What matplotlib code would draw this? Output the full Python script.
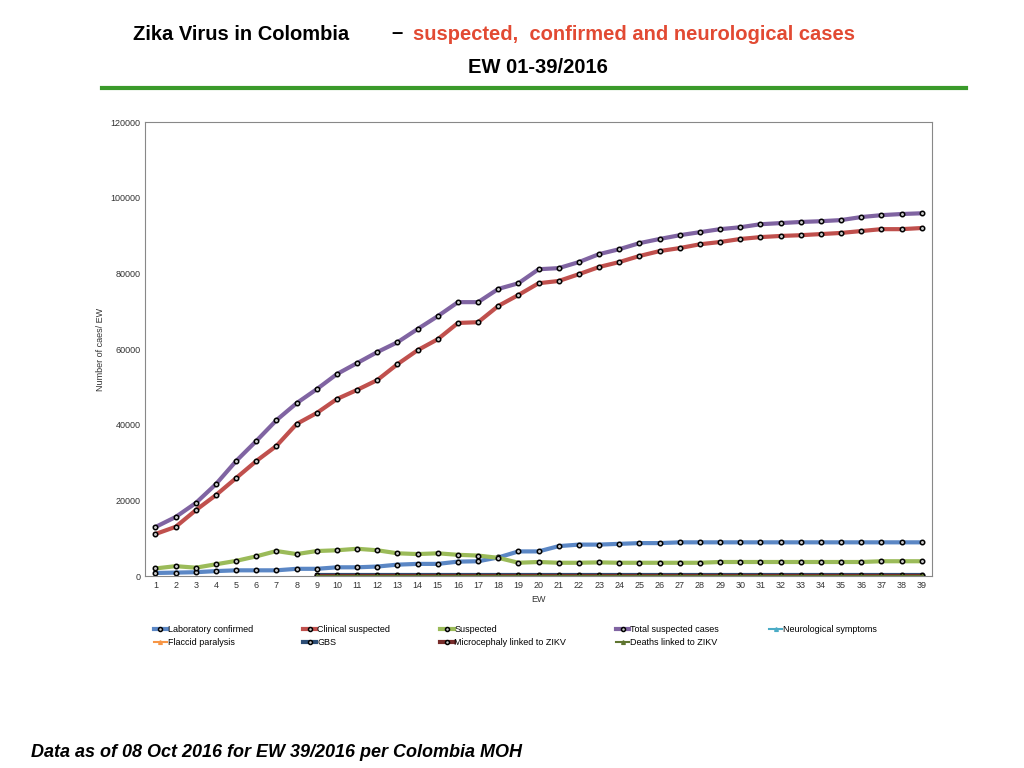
import matplotlib
matplotlib.use("Agg")
import matplotlib.pyplot as plt
import numpy as np

plt.rcParams['font.family'] = ['Liberation Sans', 'DejaVu Sans']

weeks = list(range(1, 40))
total = [12950,15600,19300,24300,30400,35700,41200,45700,49400,53400,56300,59200,61800,65300,68700,72400,72400,75900,77400,81100,81400,83000,85100,86400,88000,89100,90100,90900,91700,92200,93000,93300,93600,93800,94100,94900,95400,95700,95900]
clinical = [11100,13000,17400,21400,25900,30400,34400,40200,43100,46800,49200,51800,56000,59700,62600,66900,67100,71400,74300,77400,78000,79800,81700,83000,84600,85900,86700,87700,88300,89100,89600,89900,90100,90400,90700,91200,91700,91700,92000]
lab = [800,900,1000,1300,1500,1500,1500,1900,1900,2300,2300,2500,3000,3200,3200,3800,3900,4900,6500,6500,7900,8300,8300,8500,8700,8700,8900,8900,8900,8900,8900,8900,8900,8900,8900,8900,8900,8900,8900]
suspected = [2000,2600,2200,3100,4000,5200,6600,5800,6600,6800,7200,6800,6000,5800,6000,5600,5400,4800,3500,3700,3500,3500,3600,3500,3500,3500,3500,3500,3700,3700,3700,3700,3700,3700,3700,3700,3900,3900,3900]
gbs = [np.nan]*8 + [300]*31
microcephaly = [np.nan]*8 + [100]*31
deaths = [np.nan]*8 + [50]*31
neuro = [np.nan]*39
flaccid = [np.nan]*39

fig = plt.figure(figsize=(10.24, 7.68), dpi=100)
ax = fig.add_axes([0.142, 0.25, 0.768, 0.591])

mk = dict(marker='o', markersize=3.2, markerfacecolor='#cccccc', markeredgecolor='black', markeredgewidth=1.1)
series = [
    (lab, "Laboratory confirmed", "#5b87c5", 3, True),
    (clinical, "Clinical suspected", "#c0504d", 3, True),
    (suspected, "Suspected", "#9bbb59", 3, True),
    (total, "Total suspected cases", "#8064a2", 3, True),
    (neuro, "Neurological symptoms", "#4bacc6", 1.5, False),
    (flaccid, "Flaccid paralysis", "#f79646", 1.5, False),
    (gbs, "GBS", "#2c4d75", 3, True),
    (microcephaly, "Microcephaly linked to ZIKV", "#772c2a", 3, True),
    (deaths, "Deaths linked to ZIKV", "#5f7530", 1.5, False),
]
handles = []
for vals, lab_, col, lw, circ in series:
    if circ:
        h, = ax.plot(weeks, vals, color=col, lw=lw, label=lab_, **mk)
    else:
        h, = ax.plot(weeks, vals, color=col, lw=lw, label=lab_, marker='^', markersize=3)
    handles.append(h)

ax.set_xlim(0.5, 39.5)
ax.set_ylim(0, 120000)
ax.set_xticks(weeks)
ax.set_yticks(range(0, 120001, 20000))
ax.tick_params(labelsize=6.5, length=0, colors='#333333')
ax.set_xlabel("EW", fontsize=6.5, color='#333333')
ax.set_ylabel("Number of caes/ EW", fontsize=6.5, color='#333333')
for s in ax.spines.values():
    s.set_color('#888888'); s.set_linewidth(0.8)

order = [0, 5, 1, 6, 2, 7, 3, 8, 4]
ax.legend([handles[i] for i in order], [handles[i].get_label() for i in order],
          loc='upper left', bbox_to_anchor=(0.0, -0.09), ncol=5, frameon=False,
          fontsize=6.5, handlelength=1.5, handletextpad=0.1, columnspacing=5.5, markerscale=0.9)

fig.text(0.13, 0.955, "Zika Virus in Colombia", fontsize=14.5, fontweight='bold', ha='left', va='center')
fig.text(0.382, 0.958, "\u2013", fontsize=14.5, fontweight='bold', ha='left', va='center')
fig.text(0.403, 0.955, "suspected,  confirmed and neurological cases", fontsize=14.5, fontweight='bold',
         color='#e24a33', ha='left', va='center')
fig.text(0.525, 0.912, "EW 01-39/2016", fontsize=14.5, fontweight='bold', ha='center', va='center')
fig.add_artist(plt.Line2D([0.1, 0.943], [0.886, 0.886], color='#3a9a2a', lw=3))
fig.text(0.03, 0.02, "Data as of 08 Oct 2016 for EW 39/2016 per Colombia MOH", fontsize=13,
         fontweight='bold', style='italic', ha='left', va='center')

fig.savefig("out.png", dpi=100)
